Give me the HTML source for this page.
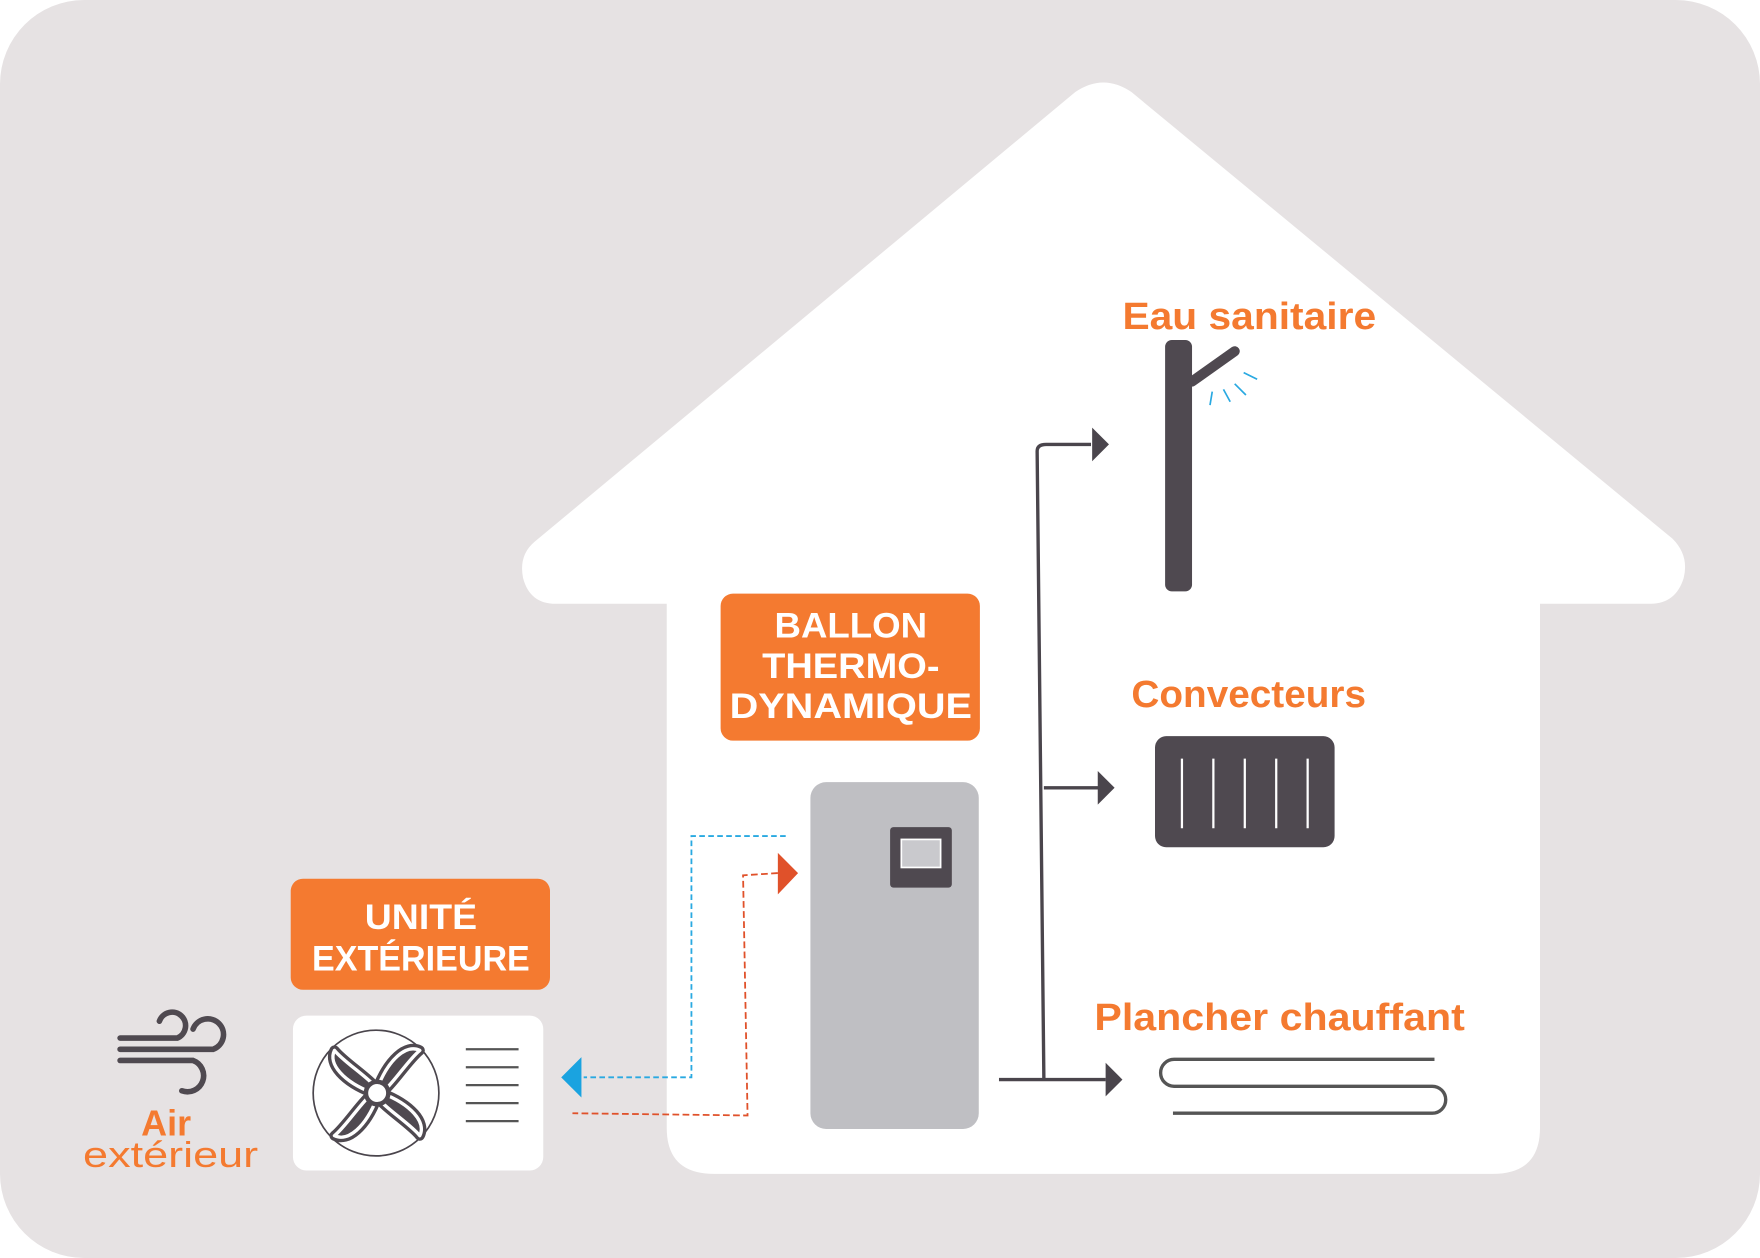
<!DOCTYPE html>
<html><head><meta charset="utf-8"><style>html,body{margin:0;padding:0;background:#fff}svg{display:block}</style></head>
<body>
<svg width="1760" height="1258" viewBox="0 0 1568 1121" preserveAspectRatio="none" xmlns="http://www.w3.org/2000/svg" font-family="Liberation Sans, sans-serif">
<rect x="0" y="0" width="1568" height="1121" rx="75" fill="#e6e2e3"/>
<!-- house -->
<path d="M958 82 Q983 65 1008 82 L1490 480 Q1505 495 1500 515 Q1493 538 1470 538 L1372 538 L1372 1005 Q1372 1046 1330 1046 L636 1046 Q594 1046 594 1005 L594 538 L495 538 Q472 538 466 515 Q462 495 476 483 Z" fill="#fff"/>
<!-- orange boxes -->
<rect x="642" y="529" width="231" height="131" rx="11" fill="#f47a30"/>
<g fill="#fff" font-weight="bold" font-size="31" text-anchor="middle">
<text x="758" y="568" textLength="136" lengthAdjust="spacingAndGlyphs">BALLON</text><text x="758" y="604" textLength="158" lengthAdjust="spacingAndGlyphs">THERMO-</text><text x="758" y="640" textLength="216" lengthAdjust="spacingAndGlyphs">DYNAMIQUE</text>
</g>
<rect x="259" y="783" width="231" height="99" rx="11" fill="#f47a30"/>
<g fill="#fff" font-weight="bold" font-size="31" text-anchor="middle">
<text x="375" y="828" textLength="100" lengthAdjust="spacingAndGlyphs">UNITÉ</text><text x="375" y="865" textLength="194" lengthAdjust="spacingAndGlyphs">EXTÉRIEURE</text>
</g>
<!-- tank -->
<rect x="722" y="697" width="150" height="309" rx="14" fill="#bfbfc3"/>
<rect x="793" y="737" width="55" height="54" rx="3" fill="#4f4950"/>
<rect x="803" y="748" width="35" height="25" fill="#c9c9cd" stroke="#fff" stroke-width="1.5"/>
<!-- outdoor unit -->
<rect x="261" y="905" width="223" height="138" rx="12" fill="#fff"/>
<circle cx="335" cy="974" r="56" fill="none" stroke="#4a454c" stroke-width="1.5"/>
<g transform="translate(336,974)" fill="#4f4950" stroke="#4f4950" stroke-width="3">
<g id="bl"><path d="M0 -4 C-8 -14 -30 -28 -38 -38 C-44 -26 -30 -10 -4 0Z" fill="#4f4950" stroke="#4f4950" stroke-width="9" stroke-linejoin="round"/><path d="M0 -4 C-8 -14 -30 -28 -38 -38 C-44 -26 -30 -10 -4 0Z" fill="#4f4950" stroke="#fff" stroke-width="3" stroke-linejoin="round"/></g>
<g transform="rotate(90)"><path d="M0 -4 C-8 -14 -30 -28 -38 -38 C-44 -26 -30 -10 -4 0Z" stroke-width="9" stroke-linejoin="round"/><path d="M0 -4 C-8 -14 -30 -28 -38 -38 C-44 -26 -30 -10 -4 0Z" stroke="#fff" stroke-width="3" stroke-linejoin="round"/></g>
<g transform="rotate(180)"><path d="M0 -4 C-8 -14 -30 -28 -38 -38 C-44 -26 -30 -10 -4 0Z" stroke-width="9" stroke-linejoin="round"/><path d="M0 -4 C-8 -14 -30 -28 -38 -38 C-44 -26 -30 -10 -4 0Z" stroke="#fff" stroke-width="3" stroke-linejoin="round"/></g>
<g transform="rotate(270)"><path d="M0 -4 C-8 -14 -30 -28 -38 -38 C-44 -26 -30 -10 -4 0Z" stroke-width="9" stroke-linejoin="round"/><path d="M0 -4 C-8 -14 -30 -28 -38 -38 C-44 -26 -30 -10 -4 0Z" stroke="#fff" stroke-width="3" stroke-linejoin="round"/></g>
<circle r="10" fill="#fff" stroke="#4f4950" stroke-width="4"/>
</g>
<g stroke="#555" stroke-width="2"><line x1="415" y1="935" x2="462" y2="935"/><line x1="415" y1="951" x2="462" y2="951"/><line x1="415" y1="967" x2="462" y2="967"/><line x1="415" y1="983" x2="462" y2="983"/><line x1="415" y1="999" x2="462" y2="999"/></g>
<!-- wind -->
<g fill="none" stroke="#4f4950" stroke-width="5" stroke-linecap="round">
<path d="M107 925 L158 925 A12 12 0 1 0 142 910"/>
<path d="M107 935 L190 935 A14 14 0 1 0 172 917"/>
<path d="M107 945 L172 945 A14 14 0 1 1 162 972"/>
</g>
<text x="148" y="1012" font-size="32" fill="#f47a30" text-anchor="middle" font-weight="bold">Air</text>
<text x="152" y="1040" font-size="32" fill="#f47a30" text-anchor="middle" textLength="156" lengthAdjust="spacingAndGlyphs">extérieur</text>
<!-- dashed -->
<path d="M700 745 L616 745 L616 960 L520 960" fill="none" stroke="#29a9e1" stroke-width="1.6" stroke-dasharray="5 3"/>
<polygon points="500,960 518,942 518,978" fill="#1aa3e0"/>
<path d="M693 778 L662 780 L666 994 L510 992" fill="none" stroke="#e0512a" stroke-width="1.6" stroke-dasharray="6 3"/>
<polygon points="711,778 693,760 693,797" fill="#e0512a"/>
<!-- pipes -->
<g stroke="#4a454c" stroke-width="3" fill="none">
<path d="M890 962 L985 962"/>
<path d="M930 962 L924 402 Q924 396 932 396 L972 396"/>
<path d="M930 702 L980 702"/>
</g>
<g fill="#4a454c"><polygon points="1000,962 985,947 985,977"/><polygon points="988,396 973,381 973,411"/><polygon points="993,702 978,687 978,717"/></g>
<!-- faucet -->
<rect x="1038" y="303" width="24" height="224" rx="6" fill="#4f4950"/>
<line x1="1062" y1="340" x2="1100" y2="313" stroke="#4f4950" stroke-width="9" stroke-linecap="round"/>
<g stroke="#29a9e1" stroke-width="1.5"><line x1="1108" y1="332" x2="1120" y2="338"/><line x1="1100" y1="342" x2="1110" y2="352"/><line x1="1090" y1="347" x2="1096" y2="358"/><line x1="1080" y1="349" x2="1078" y2="361"/></g>
<!-- radiator -->
<rect x="1029" y="656" width="160" height="99" rx="10" fill="#4f4950"/>
<g stroke="#fff" stroke-width="2"><line x1="1053" y1="676" x2="1053" y2="738"/><line x1="1081" y1="676" x2="1081" y2="738"/><line x1="1109" y1="676" x2="1109" y2="738"/><line x1="1137" y1="676" x2="1137" y2="738"/><line x1="1165" y1="676" x2="1165" y2="738"/></g>
<!-- floor heating -->
<path d="M1278 944 L1046 944 A12 12 0 0 0 1046 968 L1276 968 A12 12 0 0 1 1276 992 L1045 992" fill="none" stroke="#555" stroke-width="3"/>
<!-- labels -->
<g fill="#f47a30" font-size="34" font-weight="bold" lengthAdjust="spacingAndGlyphs">
<text x="1000" y="293" textLength="226" lengthAdjust="spacingAndGlyphs">Eau sanitaire</text>
<text x="1008" y="630" textLength="209" lengthAdjust="spacingAndGlyphs">Convecteurs</text>
<text x="975" y="918" textLength="330" lengthAdjust="spacingAndGlyphs">Plancher chauffant</text>
</g>
</svg>
</body></html>
